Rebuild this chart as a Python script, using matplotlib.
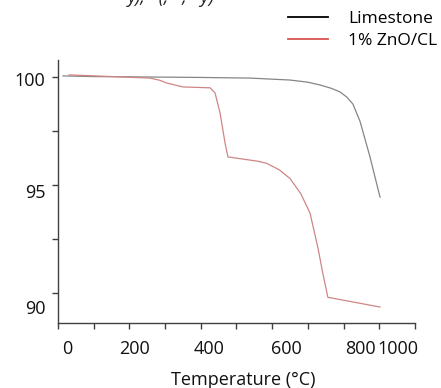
import matplotlib
matplotlib.use('Agg')
import matplotlib.pyplot as plt
from matplotlib.lines import Line2D
import numpy as np

plt.rcParams['font.family'] = ['Open Sans', 'DejaVu Sans']

# limestone TGA curve (temperature °C, mass %)
lime_t = [14, 100, 258, 400, 538, 650, 700, 734, 765, 790, 809, 826, 846, 874, 902]
lime_m = [100.05, 100.02, 100.0, 99.98, 99.95, 99.86, 99.76, 99.63, 99.48, 99.31, 99.07, 98.75,
          97.95, 96.30, 94.44]

# 1% ZnO/CL TGA curve
zno_t = [31, 150, 258, 285, 305, 350, 426, 440, 454, 468, 476, 518, 560, 585, 620, 650, 680,
         706, 728, 742, 756, 902]
zno_m = [100.1, 100.02, 99.95, 99.85, 99.72, 99.54, 99.5, 99.26, 98.33, 96.94, 96.3, 96.2, 96.1,
         96.0, 95.7, 95.3, 94.6, 93.7, 92.1, 90.9, 89.8, 89.35]

x_labels = ['0', '200', '400', '600', '800', '1000']
x_label_pos = [25, 213, 423, 639, 846, 951]
y_labels = ['100', '95', '90']
y_label_pos = [99.81, 94.63, 89.26]

fig = plt.figure(figsize=(4.41, 3.88), dpi=100)
ax = fig.add_axes([0.1315, 0.1675, 0.8095, 0.678])

ax.plot(lime_t, lime_m, color='#858585', lw=0.9)
ax.plot(zno_t, zno_m, color='#d08585', lw=0.9)

ax.set_xlim(0, 1000)
ax.set_ylim(88.61, 100.79)

for s in ['top', 'right']:
    ax.spines[s].set_visible(False)
for s in ['left', 'bottom']:
    ax.spines[s].set_color('#404040')
    ax.spines[s].set_linewidth(1.0)

ax.set_xticks(np.arange(0, 1001, 100))
ax.set_yticks([90, 92.5, 95, 97.5, 100])
ax.tick_params(axis='both', direction='out', length=4, width=1, color='#404040',
               labelbottom=False, labelleft=False)

# tick labels as drawn in the original (slightly shifted)
for lab, pos in zip(x_labels, x_label_pos):
    ax.text(pos, -0.099, lab, transform=ax.get_xaxis_transform(), ha='center', va='center',
            fontsize=13, color='#111111')
for lab, pos in zip(y_labels, y_label_pos):
    ax.text(-0.036, pos, lab, transform=ax.get_yaxis_transform(), ha='right', va='center',
            fontsize=13, color='#111111')

ax.text(0.518, -0.216, 'Temperature (°C)', transform=ax.transAxes, ha='center', va='center',
        fontsize=13, color='#111111')

handles = [Line2D([], [], color='black', lw=1.3, label='Limestone'),
           Line2D([], [], color='#d9534f', lw=1.3, label='1% ZnO/CL')]
fig.legend(handles=handles, loc='upper left', bbox_to_anchor=(288 / 441, 1 - 11 / 388),
           frameon=False, fontsize=12.5, handlelength=2.3, handletextpad=1.15,
           labelspacing=0.35, borderpad=0, borderaxespad=0)

# cut-off caption at the very top
fig.text(0.29, 0.992, 'y),   (,   ,   y)', fontsize=13, style='italic', ha='left', va='baseline',
         color='#222222')

fig.savefig('out.png', dpi=100)
